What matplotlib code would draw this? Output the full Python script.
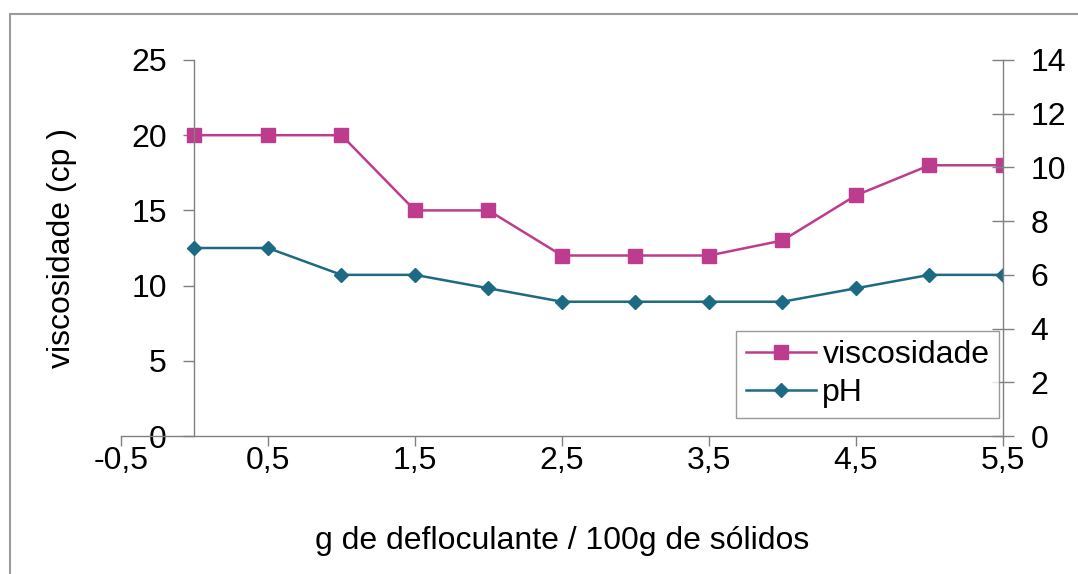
import matplotlib.pyplot as plt
from matplotlib.patches import Rectangle
from matplotlib.ticker import FuncFormatter

plt.rcParams['font.family'] = ['Liberation Sans', 'DejaVu Sans']

x = [0, 0.5, 1, 1.5, 2, 2.5, 3, 3.5, 4, 4.5, 5, 5.5]
viscosidade = [20, 20, 20, 15, 15, 12, 12, 12, 13, 16, 18, 18]
ph = [7, 7, 6, 6, 5.5, 5, 5, 5, 5, 5.5, 6, 6]
xticks = [-0.5, 0.5, 1.5, 2.5, 3.5, 4.5, 5.5]

rosa = '#BE3C8E'
azul = '#1D6A84'
cinza = '#808080'
fs = 23

fig = plt.figure(figsize=(10.78, 5.74), dpi=100)
# moldura externa (sai pela direita e por baixo)
fig.patches.append(Rectangle((10 / 1078, -0.1), 1.2, 1 - 14 / 574 + 0.1, transform=fig.transFigure,
                             fill=False, edgecolor='#9a9a9a', linewidth=1.5))

ax = fig.add_axes([0.1122, 0.2404, 0.8182, 0.6551])
ax2 = ax.twinx()

ax.plot(x, viscosidade, color=rosa, marker='s', markersize=10, linewidth=1.8, label='viscosidade')
ax2.plot(x, ph, color=azul, marker='D', markersize=7.5, linewidth=1.8, label='pH')

ax.set_xlim(-0.5, 5.5)
ax.set_ylim(0, 25)
ax2.set_ylim(0, 14)
ax.set_xticks(xticks)
ax.set_yticks([0, 5, 10, 15, 20, 25])
ax2.set_yticks(range(0, 15, 2))
ax.xaxis.set_major_formatter(FuncFormatter(lambda v, p: f'{v:.1f}'.replace('.', ',')))

for a in (ax, ax2):
    a.spines['top'].set_visible(False)
    for s in a.spines.values():
        s.set_color(cinza)
        s.set_linewidth(1)
    a.tick_params(colors=cinza, labelcolor='black', labelsize=fs, width=1)
ax.spines['right'].set_visible(False)
ax2.spines['left'].set_visible(False)
ax2.spines['bottom'].set_visible(False)
ax.spines['left'].set_position(('data', 0))
ax.tick_params(axis='x', length=7, pad=0)
ax.tick_params(axis='y', length=8, pad=12)
ax2.tick_params(axis='y', direction='inout', length=16, pad=12)

ax.set_xlabel('g de defloculante / 100g de sólidos', fontsize=fs)
ax.xaxis.set_label_coords(0.5, -0.24)
ax.set_ylabel('viscosidade (cp )', fontsize=fs)
ax.yaxis.set_label_coords(-0.05, 0.5)

h1, l1 = ax.get_legend_handles_labels()
h2, l2 = ax2.get_legend_handles_labels()
leg = ax2.legend(h1 + h2, l1 + l2, loc='lower right', bbox_to_anchor=(0.9955, 0.048),
                 fontsize=fs, frameon=True, fancybox=False, handlelength=2.2,
                 handletextpad=0.2, borderpad=0.3, labelspacing=0.25, borderaxespad=0)
leg.get_frame().set_edgecolor(cinza)
leg.get_frame().set_linewidth(1)

fig.savefig('out.png', dpi=100)
